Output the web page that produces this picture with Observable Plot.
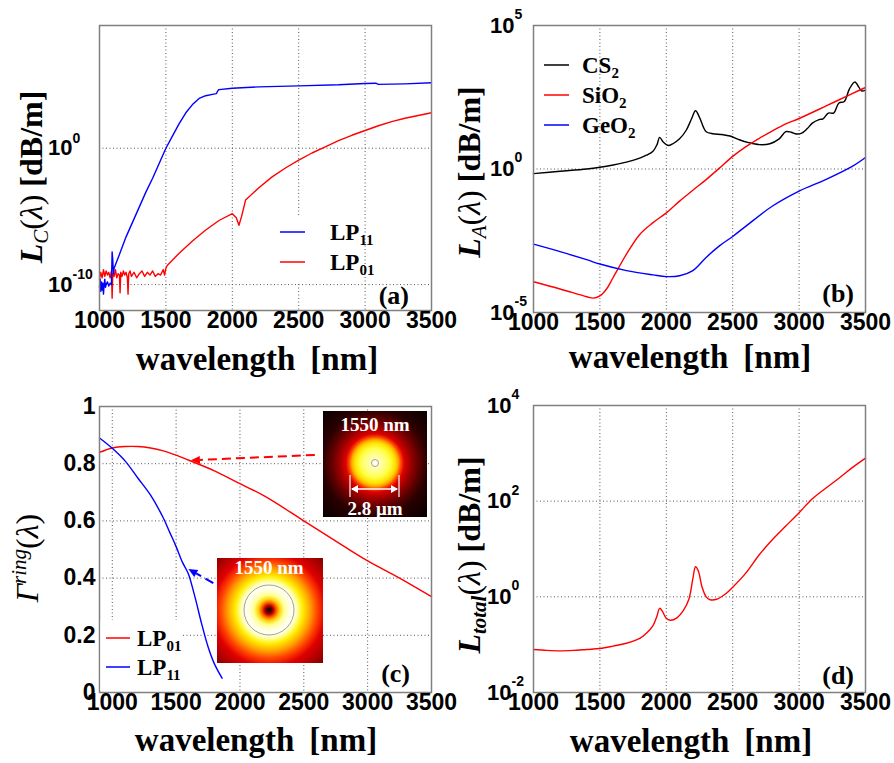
<!DOCTYPE html>
<html><head><meta charset="utf-8">
<script src="https://cdn.jsdelivr.net/npm/d3@7"></script>
<script src="https://cdn.jsdelivr.net/npm/@observablehq/plot@0.6"></script>
<style>
html,body{margin:0;padding:0;background:#fff}
#wrap{position:relative;width:894px;height:763px;overflow:hidden;background:#fff}
</style></head>
<body><div id="wrap"></div>
<script>
// ---------- data ----------
const xTicks = [1000, 1500, 2000, 2500, 3000, 3500];

// (a) confinement loss, log10 of dB/m
const aLP11Wl = [1000,1005,1010,1015,1020,1025,1030,1035,1040,1045,1050,1060,1070,1080,1090,1095,1100,1105,1110,1150,1200,1250,1300,1350,1400,1450,1500,1550,1600,1650,1700,1750,1800,1850,1880,1890,1900,2000,2200,2500,2800,3000,3080,3100,3300,3500];
const aLP11Exp = [-10.2,-9.6,-10.5,-9.8,-10.4,-9.9,-10.7,-10.0,-9.6,-10.2,-10.0,-9.8,-10.1,-9.9,-10.0,-7.6,-8.2,-9.2,-8.8,-7.8,-6.5,-5.4,-4.3,-3.2,-2.2,-1.1,0.0,0.9,1.8,2.6,3.2,3.65,3.85,3.95,4.0,4.2,4.3,4.4,4.5,4.57,4.65,4.75,4.77,4.68,4.72,4.8];
const aLP01Wl = [1000,1010,1020,1030,1040,1050,1060,1070,1080,1090,1095,1100,1110,1120,1130,1140,1150,1155,1160,1170,1180,1190,1200,1210,1215,1220,1230,1240,1260,1280,1300,1320,1340,1360,1380,1400,1420,1440,1460,1480,1490,1500,1510,1600,1700,1800,1900,2000,2030,2050,2070,2100,2200,2300,2400,2500,2600,2700,2800,2900,3000,3100,3200,3300,3400,3500];
const aLP01Exp = [-9.6,-9.1,-9.5,-8.9,-9.4,-9.0,-9.3,-9.1,-9.5,-9.0,-11.0,-9.2,-9.4,-8.9,-9.5,-9.2,-9.3,-10.6,-9.1,-9.4,-9.0,-9.3,-9.1,-9.5,-10.7,-9.2,-9.0,-9.4,-9.1,-9.5,-9.2,-9.0,-9.4,-9.1,-9.3,-9.0,-9.4,-9.2,-9.3,-8.9,-9.3,-8.8,-8.6,-7.7,-6.8,-6.0,-5.3,-4.8,-5.1,-5.65,-5.0,-3.8,-2.9,-2.1,-1.45,-0.88,-0.35,0.1,0.55,0.95,1.3,1.65,1.95,2.2,2.4,2.6];
const aYTicks = [-10, 0];

// (b) material absorption loss, log10 of dB/m
const bCS2Wl = [1000,1200,1400,1500,1600,1700,1800,1850,1900,1930,1950,1975,2000,2020,2050,2100,2150,2190,2220,2250,2280,2300,2350,2420,2480,2550,2620,2700,2780,2850,2900,2940,2980,3020,3060,3100,3150,3180,3220,3260,3300,3340,3380,3420,3450,3470,3500];
const bCS2Exp = [-0.16,-0.08,0.0,0.06,0.14,0.24,0.38,0.48,0.62,0.85,1.1,0.95,0.85,0.82,0.88,1.05,1.35,1.75,2.03,1.8,1.45,1.3,1.23,1.2,1.15,1.02,0.92,0.85,0.88,1.05,1.3,1.28,1.22,1.25,1.4,1.6,1.72,1.75,1.95,1.95,2.3,2.35,2.8,3.03,2.85,2.72,2.75];
const bSiO2Wl = [1000,1200,1400,1450,1500,1550,1600,1700,1800,1900,2000,2100,2200,2300,2400,2500,2600,2700,2800,2900,3000,3200,3400,3500];
const bSiO2Exp = [-3.93,-4.18,-4.45,-4.5,-4.42,-4.18,-3.78,-2.97,-2.28,-1.87,-1.53,-1.12,-0.74,-0.37,0.03,0.44,0.78,1.07,1.33,1.57,1.76,2.19,2.63,2.84];
const bGeO2Wl = [1000,1200,1400,1500,1700,1900,2000,2100,2200,2300,2400,2500,2600,2800,3000,3200,3400,3500];
const bGeO2Exp = [-2.62,-2.88,-3.16,-3.31,-3.54,-3.69,-3.75,-3.72,-3.54,-3.08,-2.68,-2.35,-1.99,-1.29,-0.77,-0.37,0.09,0.4];
const bYTicks = [-5, 0, 5];

// (c) power fraction in ring
const cLP01Wl = [900,950,1000,1100,1200,1300,1400,1500,1600,1800,2000,2200,2500,2800,3000,3250,3500];
const cLP01Val = [0.84,0.848,0.855,0.86,0.86,0.855,0.845,0.83,0.812,0.775,0.73,0.685,0.60,0.515,0.46,0.40,0.335];
const cLP11Wl = [900,1000,1100,1200,1300,1400,1450,1500,1550,1580,1600,1650,1700,1750,1800,1860];
const cLP11Val = [0.89,0.854,0.81,0.75,0.69,0.61,0.56,0.51,0.455,0.43,0.41,0.33,0.24,0.16,0.10,0.05];
const cYTicks = [0, 0.2, 0.4, 0.6, 0.8, 1];

// (d) total loss, log10 of dB/m
const dWl = [1000,1100,1200,1300,1400,1500,1600,1700,1800,1850,1900,1930,1950,1970,2000,2030,2080,2130,2170,2200,2220,2240,2270,2300,2330,2380,2450,2500,2600,2700,2800,2900,3000,3100,3200,3300,3400,3500];
const dExp = [-1.1,-1.12,-1.13,-1.12,-1.1,-1.08,-1.03,-0.97,-0.87,-0.76,-0.6,-0.4,-0.24,-0.3,-0.45,-0.49,-0.44,-0.28,-0.05,0.38,0.63,0.55,0.2,0.0,-0.06,-0.05,0.07,0.2,0.5,0.88,1.2,1.48,1.76,2.05,2.27,2.48,2.7,2.9];
const dYTicks = [-2, 0, 2, 4];

// ---------- helpers ----------
const SERIF = "'Liberation Serif','Times New Roman',serif";
const SANS = "'Liberation Sans',Arial,sans-serif";
const wrap = document.getElementById("wrap");
const rowsLog = (wl, e) => wl.map((w, i) => ({wl: w, v: 10 ** e[i]}));
const rowsLin = (wl, v) => wl.map((w, i) => ({wl: w, v: v[i]}));
const grid = {stroke: "#555", strokeWidth: 1, strokeDasharray: "1,2.5"};

function logTicks(ticks, dx, dy) {
  return [
    Plot.text(ticks, {y: d => 10 ** d, frameAnchor: "left", dx, textAnchor: "end", text: () => "10",
      fontSize: 22, fontWeight: "bold", fontFamily: SANS}),
    Plot.text(ticks, {y: d => 10 ** d, frameAnchor: "left", dx, dy, textAnchor: "start", text: d => String(d),
      fontSize: 14, fontWeight: "bold", fontFamily: SANS})
  ];
}

function panel(cfg) {
  const svg = Plot.plot({
    width: cfg.w, height: cfg.h,
    marginLeft: cfg.mL, marginRight: cfg.mR, marginTop: cfg.mT, marginBottom: cfg.mB,
    x: {domain: cfg.xDomain, axis: null},
    y: Object.assign({axis: null}, cfg.y),
    style: {background: "transparent", overflow: "visible"},
    marks: [
      Plot.ruleX(cfg.gridX, grid),
      Plot.ruleY(cfg.gridY, grid),
      ...cfg.lines,
      Plot.frame({stroke: "#808080", strokeWidth: 1.5}),
      Plot.text(xTicks, {x: d => d, frameAnchor: "bottom", dy: 17, text: d => String(d),
        fontSize: 23, fontWeight: "bold", fontFamily: SANS}),
      ...cfg.yTickMarks
    ]
  });
  svg.style.position = "absolute";
  svg.style.left = cfg.left + "px";
  svg.style.top = cfg.top + "px";
  wrap.appendChild(svg);
  const ov = d3.select(svg).append("g").attr("transform", `translate(${-cfg.left},${-cfg.top})`);
  return {svg, ov};
}

function richText(ov, x, y, parts, opts) {
  const t = ov.append("text")
    .attr("font-family", SERIF).attr("font-size", opts.size).attr("fill", opts.fill || "black")
    .attr("text-anchor", opts.anchor || "middle");
  if (opts.rotate) t.attr("transform", `translate(${x},${y}) rotate(-90)`);
  else t.attr("x", x).attr("y", y);
  for (const p of parts) {
    const s = t.append("tspan").text(p.t);
    if (p.i) s.attr("font-style", "italic");
    if (p.b) s.attr("font-weight", "bold");
    if (p.s) s.attr("font-size", p.s);
    if (p.dy) s.attr("dy", p.dy);
    if (p.dx) s.attr("dx", p.dx);
  }
  return t;
}

function xTitle(ov, cx, by) {
  richText(ov, cx, by, [{t: "wavelength", b: true}, {t: "[nm]", b: true, dx: 15}], {size: 33});
}

function legend(ov, items, lx1, lx2, tx, box) {
  if (box) ov.append("rect").attr("x", box[0]).attr("y", box[1]).attr("width", box[2]).attr("height", box[3]).attr("fill", "white");
  for (const it of items) {
    ov.append("line").attr("x1", lx1).attr("x2", lx2).attr("y1", it.y).attr("y2", it.y)
      .attr("stroke", it.color).attr("stroke-width", 1.5);
    richText(ov, tx, it.y + 8, [{t: it.label, b: true}, {t: it.sub, b: true, s: 15, dy: 5}], {size: 23, anchor: "start"});
  }
}

function panelLabel(ov, x, y, s) {
  ov.append("text").attr("x", x).attr("y", y).attr("text-anchor", "end")
    .attr("font-family", SERIF).attr("font-weight", "bold").attr("font-size", 26).text(s);
}

// ---------- (a) ----------
{
  const {ov} = panel({
    left: 0, top: 0, w: 447, h: 380, mL: 99, mR: 16, mT: 25, mB: 70,
    xDomain: [1000, 3500], y: {type: "log", domain: [10 ** -11.9, 10 ** 9]},
    gridX: [1500, 2000, 2500, 3000], gridY: [1e-10, 1],
    lines: [
      Plot.line(rowsLog(aLP01Wl, aLP01Exp), {x: "wl", y: "v", stroke: "#ff0000", strokeWidth: 1.4}),
      Plot.line(rowsLog(aLP11Wl, aLP11Exp), {x: "wl", y: "v", stroke: "#0000ff", strokeWidth: 1.4})
    ],
    yTickMarks: logTicks(aYTicks, -27, -10)
  });
  legend(ov, [{label: "LP", sub: "11", color: "#0000ff", y: 232}, {label: "LP", sub: "01", color: "#ff0000", y: 262}],
    280, 305, 330, [268, 215, 92, 68]);
  richText(ov, 42, 177, [{t: "L", i: true, b: true}, {t: "C", i: true, s: 21, dy: 6}, {t: "(", dy: -6}, {t: "λ", i: true}, {t: ") "}, {t: "[dB/m]", b: true}], {size: 32, rotate: true});
  xTitle(ov, 257, 370);
  panelLabel(ov, 409, 304, "(a)");
}

// ---------- (b) ----------
{
  const {ov} = panel({
    left: 447, top: 0, w: 447, h: 380, mL: 86, mR: 29, mT: 25, mB: 68,
    xDomain: [1000, 3500], y: {type: "log", domain: [1e-5, 1e5]},
    gridX: [1500, 2000, 2500, 3000], gridY: [1],
    lines: [
      Plot.line(rowsLog(bCS2Wl, bCS2Exp), {x: "wl", y: "v", stroke: "#000000", strokeWidth: 1.4, curve: "catmull-rom"}),
      Plot.line(rowsLog(bSiO2Wl, bSiO2Exp), {x: "wl", y: "v", stroke: "#ff0000", strokeWidth: 1.4, curve: "catmull-rom"}),
      Plot.line(rowsLog(bGeO2Wl, bGeO2Exp), {x: "wl", y: "v", stroke: "#0000ff", strokeWidth: 1.4, curve: "catmull-rom"})
    ],
    yTickMarks: logTicks(bYTicks, -19, -11)
  });
  legend(ov, [
    {label: "CS", sub: "2", color: "#000000", y: 65},
    {label: "SiO", sub: "2", color: "#ff0000", y: 95},
    {label: "GeO", sub: "2", color: "#0000ff", y: 125}
  ], 544, 569, 582, null);
  richText(ov, 480, 172, [{t: "L", i: true, b: true}, {t: "A", i: true, s: 21, dy: 6}, {t: "(", dy: -6}, {t: "λ", i: true}, {t: ") "}, {t: "[dB/m]", b: true}], {size: 32, rotate: true});
  xTitle(ov, 690, 368);
  panelLabel(ov, 854, 302, "(b)");
}

// ---------- (c) ----------
{
  const {svg, ov} = panel({
    left: 0, top: 380, w: 447, h: 383, mL: 99, mR: 16, mT: 26, mB: 71,
    xDomain: [900, 3500], y: {domain: [0, 1]},
    gridX: [1000, 1500, 2000, 2500, 3000], gridY: [0.2, 0.4, 0.6, 0.8],
    lines: [
      Plot.line(rowsLin(cLP01Wl, cLP01Val), {x: "wl", y: "v", stroke: "#ff0000", strokeWidth: 1.4, curve: "catmull-rom"}),
      Plot.line(rowsLin(cLP11Wl, cLP11Val), {x: "wl", y: "v", stroke: "#0000ff", strokeWidth: 1.4, curve: "catmull-rom"})
    ],
    yTickMarks: [Plot.text(cYTicks, {y: d => d, frameAnchor: "left", dx: -4, textAnchor: "end", text: d => String(d),
      fontSize: 23, fontWeight: "bold", fontFamily: SANS})]
  });
  const sx = v => svg.scale("x").apply(v), sy = v => svg.scale("y").apply(v) + 380;
  const defs = ov.append("defs");
  const g1 = defs.append("radialGradient").attr("id", "mode01").attr("gradientUnits", "userSpaceOnUse")
    .attr("cx", 375).attr("cy", 463).attr("r", 75);
  [[0, "#ffffc8"], [0.12, "#ffff90"], [0.2, "#ffff40"], [0.27, "#ffe000"], [0.31, "#ffa800"], [0.345, "#ff4a00"],
   [0.39, "#dc0000"], [0.48, "#9a0000"], [0.58, "#600000"], [0.7, "#2a0000"], [1, "#060000"]]
    .forEach(([o, c]) => g1.append("stop").attr("offset", o).attr("stop-color", c));
  const g2 = defs.append("radialGradient").attr("id", "mode11").attr("gradientUnits", "userSpaceOnUse")
    .attr("cx", 269).attr("cy", 610).attr("r", 75);
  [[0, "#200000"], [0.03, "#400000"], [0.06, "#c00000"], [0.1, "#ff6000"], [0.14, "#ffd000"], [0.2, "#ffff90"],
   [0.27, "#ffffe0"], [0.33, "#fffff4"], [0.38, "#ffffa0"], [0.45, "#ffee00"], [0.55, "#ffa000"], [0.65, "#ff4000"],
   [0.75, "#e00000"], [0.88, "#b00000"], [1, "#800000"]]
    .forEach(([o, c]) => g2.append("stop").attr("offset", o).attr("stop-color", c));

  // legend box + legend
  legend(ov, [{label: "LP", sub: "01", color: "#ff0000", y: 638}, {label: "LP", sub: "11", color: "#0000ff", y: 667}],
    106, 130, 137, [100.5, 620, 82, 71]);

  // inset LP01
  ov.append("rect").attr("x", 323).attr("y", 411).attr("width", 104).attr("height", 106).attr("fill", "url(#mode01)");
  ov.append("circle").attr("cx", 375).attr("cy", 463).attr("r", 3.5).attr("fill", "#fffff0").attr("stroke", "#a0a0a0").attr("stroke-width", 1);
  ov.append("text").attr("x", 375).attr("y", 431).attr("text-anchor", "middle").attr("fill", "white")
    .attr("font-family", SERIF).attr("font-weight", "bold").attr("font-size", 19).text("1550 nm");
  [350, 399].forEach(x => ov.append("line").attr("x1", x).attr("x2", x).attr("y1", 475).attr("y2", 497).attr("stroke", "#eeeeee").attr("stroke-width", 1.3));
  ov.append("line").attr("x1", 352).attr("x2", 397).attr("y1", 489).attr("y2", 489).attr("stroke", "white").attr("stroke-width", 1.5);
  ov.append("path").attr("d", "M351,489 l7,-4 l0,8 z M398,489 l-7,-4 l0,8 z").attr("fill", "white");
  ov.append("text").attr("x", 375).attr("y", 515).attr("text-anchor", "middle").attr("fill", "white")
    .attr("font-family", SERIF).attr("font-weight", "bold").attr("font-size", 19).text("2.8 μm");

  // inset LP11
  ov.append("rect").attr("x", 217).attr("y", 558).attr("width", 106).attr("height", 105).attr("fill", "url(#mode11)");
  ov.append("circle").attr("cx", 269).attr("cy", 610).attr("r", 25).attr("fill", "none").attr("stroke", "#a0a0a0").attr("stroke-width", 1);
  ov.append("text").attr("x", 269).attr("y", 574).attr("text-anchor", "middle").attr("fill", "white")
    .attr("font-family", SERIF).attr("font-weight", "bold").attr("font-size", 19).text("1550 nm");

  // dashed arrows to the curves (heads at λ = 1600 nm)
  function arrow(x0, y0, x1, y1, color) {
    const ang = Math.atan2(y1 - y0, x1 - x0), L = 9, Wd = 4;
    const bx = x1 - L * Math.cos(ang), by = y1 - L * Math.sin(ang);
    ov.append("line").attr("x1", x0).attr("y1", y0).attr("x2", bx).attr("y2", by)
      .attr("stroke", color).attr("stroke-width", 2).attr("stroke-dasharray", "9,5");
    ov.append("path").attr("fill", color).attr("d",
      `M${x1},${y1} L${bx + Wd * Math.sin(ang)},${by - Wd * Math.cos(ang)} L${bx - Wd * Math.sin(ang)},${by + Wd * Math.cos(ang)} Z`);
  }
  arrow(sx(2590), sy(0.829), sx(1620), sy(0.81), "#ff0000");
  arrow(sx(1795), sy(0.381), sx(1600), sy(0.43), "#0000ff");

  richText(ov, 38, 558, [{t: "Γ", i: true}, {t: "ring", i: true, s: 21, dy: -12}, {t: "(", dy: 12}, {t: "λ", i: true}, {t: ")"}], {size: 32, rotate: true});
  xTitle(ov, 256, 751);
  panelLabel(ov, 410, 682, "(c)");
}

// ---------- (d) ----------
{
  const {ov} = panel({
    left: 447, top: 380, w: 447, h: 383, mL: 86, mR: 29, mT: 25, mB: 71,
    xDomain: [1000, 3500], y: {type: "log", domain: [1e-2, 1e4]},
    gridX: [1500, 2000, 2500, 3000], gridY: [1, 100],
    lines: [
      Plot.line(rowsLog(dWl, dExp), {x: "wl", y: "v", stroke: "#ff0000", strokeWidth: 1.4, curve: "catmull-rom"})
    ],
    yTickMarks: logTicks(dYTicks, -22, -11)
  });
  richText(ov, 480, 555, [{t: "L", i: true, b: true}, {t: "total", i: true, b: true, s: 21, dy: 6}, {t: "(", dy: -6}, {t: "λ", i: true}, {t: ") "}, {t: "[dB/m]", b: true}], {size: 32, rotate: true});
  xTitle(ov, 691, 752);
  panelLabel(ov, 854, 684, "(d)");
}
</script>
</body></html>
